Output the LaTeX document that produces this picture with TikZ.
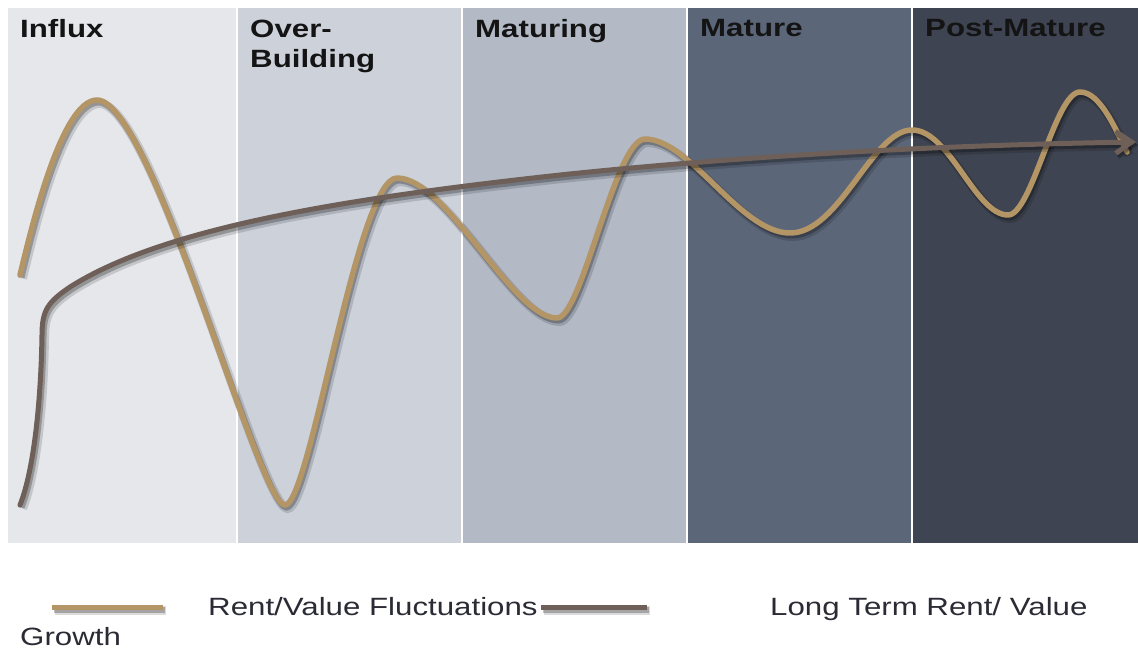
\documentclass[tikz,border=0pt]{standalone}
\usepackage{fontspec}
\setmainfont{Liberation Sans}
\newfontfamily\stretchfont[FakeStretch=1.25]{Liberation Sans}
\usetikzlibrary{arrows.meta}
\definecolor{panelA}{HTML}{E6E7EB}
\definecolor{panelB}{HTML}{CCD1DA}
\definecolor{panelC}{HTML}{B3BAC6}
\definecolor{panelD}{HTML}{5B6679}
\definecolor{panelE}{HTML}{3E4451}
\definecolor{tanline}{HTML}{B39566}
\definecolor{brownline}{HTML}{6E5F58}
\definecolor{titletext}{HTML}{141414}
\definecolor{legendtext}{HTML}{2B2B35}
\tikzset{
  panel/.style={fill=#1, draw=none},
  phasetitle/.style={font=\stretchfont\bfseries\fontsize{25}{30}\selectfont, text=titletext, inner sep=0pt, anchor=north west, align=left},
  legendlabel/.style={font=\stretchfont\fontsize{25}{30}\selectfont, text=legendtext, inner sep=0pt, anchor=base west},
  softshadow/.style={preaction={draw=black, opacity=0.14, line width=9pt, transform canvas={shift={(2.5,3.5)}}},
                     preaction={draw=black, opacity=0.25, line width=6pt, transform canvas={shift={(1.5,2.5)}}}},
  fluct/.style={draw=tanline, line width=5.5pt, line cap=round, line join=round, softshadow},
  trend/.style={draw=brownline, line width=5pt, line cap=round, line join=round, softshadow},
  legendline/.style={draw=#1, line width=5pt, softshadow},
}
\begin{document}
\begin{tikzpicture}[x=1pt,y=-1pt]
\useasboundingbox (0,0) rectangle (1138,648);
\fill[white] (0,0) rectangle (1138,648);
% panels
\path[panel=panelA] (8,8) rectangle (236,543);
\path[panel=panelB] (238,8) rectangle (461,543);
\path[panel=panelC] (463,8) rectangle (686,543);
\path[panel=panelD] (688,8) rectangle (911,543);
\path[panel=panelE] (913,8) rectangle (1138,543);
% titles
\node[phasetitle] (tInflux) at (20,19.5) {Influx};
\node[phasetitle] (tOver) at (250,19.5) {Over-\\Building};
\node[phasetitle] (tMaturing) at (475,19.5) {Maturing};
\node[phasetitle] (tMature) at (700,19.5) {Mature};
\node[phasetitle] (tPost) at (925,19.5) {Post-Mature};
% fluctuation curve
\draw[fluct] (20,275)
  .. controls (32,225) and (62,100) .. (97,100)
  .. controls (152,100) and (258,505) .. (285,505)
  .. controls (310,505) and (357,178) .. (397,178)
  .. controls (447,178) and (512,318) .. (557,318)
  .. controls (582,318) and (615,139) .. (645,139)
  .. controls (690,139) and (740,233) .. (790,233)
  .. controls (840,233) and (872,130) .. (912,130)
  .. controls (950,130) and (975,215) .. (1008,215)
  .. controls (1032,215) and (1055,92) .. (1080,92)
  .. controls (1100,92) and (1115,128) .. (1127,152);
% long term trend
\coordinate (trendStart) at (20,505);
\coordinate (trendEnd) at (1136,142);
\draw[trend, -{Straight Barb[length=16pt,width=22pt,line width=5pt]}] (trendStart)
  .. controls (34,470) and (41,400) .. (42,335)
  .. controls (42,310) and (48,302) .. (70,287)
  .. controls (160,230) and (330,200) .. (560,175)
  .. controls (750,155) and (950,145) .. (trendEnd);
% legend
\coordinate (lgA1) at (52,607);
\coordinate (lgA2) at (163,607);
\coordinate (lgB1) at (541,607);
\coordinate (lgB2) at (647,607);
\draw[legendline=tanline] (lgA1) -- (lgA2);
\draw[legendline=brownline] (lgB1) -- (lgB2);
\node[legendlabel] (lRent) at (208,615) {Rent/Value Fluctuations};
\node[legendlabel] (lLong) at (770,615) {Long Term Rent/ Value};
\node[legendlabel] (lGrowth) at (20,645) {Growth};
\end{tikzpicture}
\end{document}
